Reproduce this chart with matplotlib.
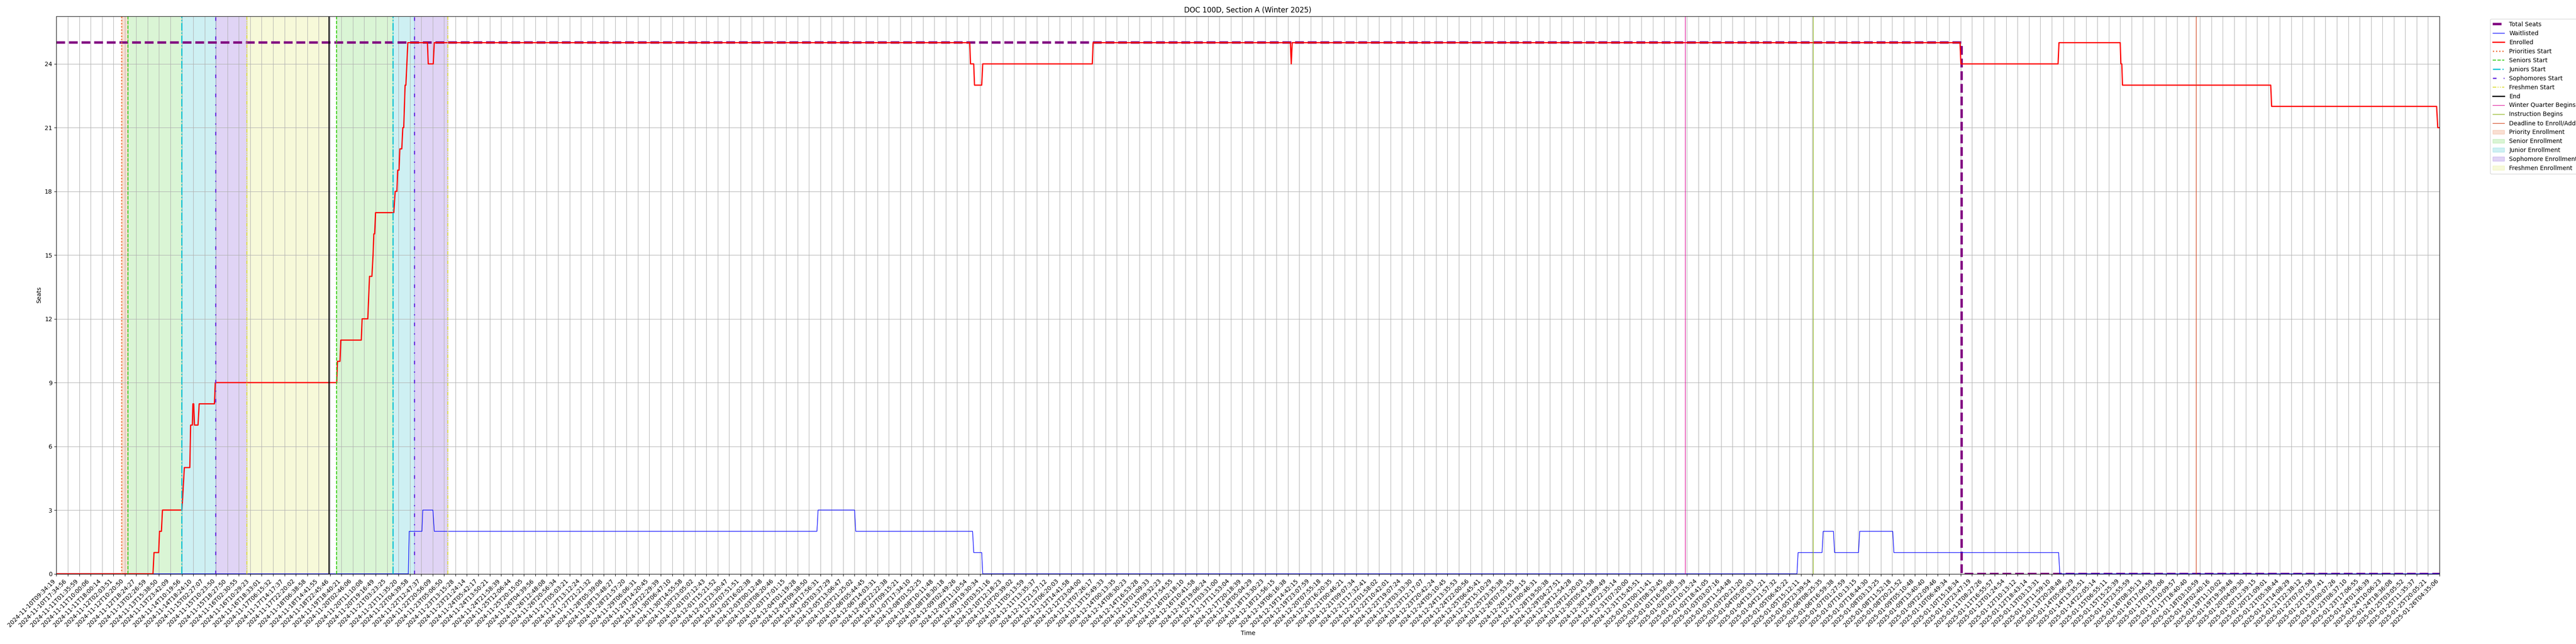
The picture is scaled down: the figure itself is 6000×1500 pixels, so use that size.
import matplotlib
matplotlib.use('Agg')
import matplotlib.pyplot as plt

# Tijdstempels op de x-as (elke tick = 1 meetpunt-index)
tijd_labels = [
    '2024-11-10T09:34:19', '2024-11-10T17:34:56', '2024-11-11T01:35:59', '2024-11-11T10:00:06',
    '2024-11-11T18:00:14', '2024-11-12T02:03:51', '2024-11-12T10:20:50', '2024-11-12T18:24:27',
    '2024-11-13T02:26:59', '2024-11-13T15:38:50', '2024-11-13T23:42:09', '2024-11-14T10:19:56',
    '2024-11-14T18:24:10', '2024-11-15T02:27:07', '2024-11-15T10:23:50', '2024-11-15T18:27:50',
    '2024-11-16T02:30:55', '2024-11-16T10:29:23', '2024-11-16T18:33:01', '2024-11-17T06:15:32',
    '2024-11-17T14:17:37', '2024-11-17T22:20:02', '2024-11-18T06:38:58', '2024-11-18T14:41:55',
    '2024-11-18T22:45:46', '2024-11-19T18:40:21', '2024-11-20T02:46:06', '2024-11-20T11:10:08',
    '2024-11-20T19:16:49', '2024-11-21T03:23:25', '2024-11-21T11:35:20', '2024-11-22T04:39:58',
    '2024-11-22T12:47:37', '2024-11-22T20:56:09', '2024-11-23T05:06:50', '2024-11-23T13:15:28',
    '2024-11-23T21:24:14', '2024-11-24T05:42:17', '2024-11-24T13:50:21', '2024-11-24T21:58:39',
    '2024-11-25T12:06:44', '2024-11-25T20:15:05', '2024-11-26T04:39:56', '2024-11-26T12:48:08',
    '2024-11-26T20:56:34', '2024-11-27T05:03:21', '2024-11-27T13:12:24', '2024-11-27T21:21:32',
    '2024-11-28T05:39:08', '2024-11-28T13:48:27', '2024-11-28T21:57:20', '2024-11-29T06:06:31',
    '2024-11-29T14:20:45', '2024-11-29T22:29:39', '2024-11-30T06:47:10', '2024-11-30T14:55:58',
    '2024-11-30T23:05:02', '2024-12-01T07:12:43', '2024-12-01T15:21:52', '2024-12-01T23:30:47',
    '2024-12-02T07:51:51', '2024-12-02T16:02:38', '2024-12-03T00:12:48', '2024-12-03T08:20:46',
    '2024-12-03T17:01:15', '2024-12-04T01:19:28', '2024-12-04T09:38:50', '2024-12-04T17:56:31',
    '2024-12-05T03:37:29', '2024-12-05T13:06:47', '2024-12-05T21:25:02', '2024-12-06T05:44:45',
    '2024-12-06T14:03:31', '2024-12-06T22:22:38', '2024-12-07T09:15:21', '2024-12-07T17:34:10',
    '2024-12-08T01:52:25', '2024-12-08T10:11:48', '2024-12-08T18:30:18', '2024-12-09T02:49:26',
    '2024-12-09T11:10:54', '2024-12-09T19:30:34', '2024-12-10T03:51:16', '2024-12-10T12:18:23',
    '2024-12-10T20:39:02', '2024-12-11T05:13:59', '2024-12-11T13:35:37', '2024-12-11T21:57:12',
    '2024-12-12T06:20:03', '2024-12-12T14:41:58', '2024-12-12T23:04:00', '2024-12-13T07:26:17',
    '2024-12-13T15:49:33', '2024-12-14T00:13:35', '2024-12-14T08:30:23', '2024-12-14T16:53:28',
    '2024-12-15T01:09:33', '2024-12-15T09:32:23', '2024-12-15T17:54:55', '2024-12-16T02:18:10',
    '2024-12-16T10:41:58', '2024-12-16T19:06:24', '2024-12-17T03:31:00', '2024-12-17T11:53:04',
    '2024-12-17T20:18:39', '2024-12-18T05:04:29', '2024-12-18T13:30:23', '2024-12-18T21:56:15',
    '2024-12-19T06:16:38', '2024-12-19T14:42:15', '2024-12-19T23:07:59', '2024-12-20T07:55:18',
    '2024-12-20T16:20:35', '2024-12-21T00:46:21', '2024-12-21T09:07:34', '2024-12-21T17:32:41',
    '2024-12-22T01:58:02', '2024-12-22T10:42:01', '2024-12-22T19:07:24', '2024-12-23T03:33:30',
    '2024-12-23T12:17:07', '2024-12-23T20:42:24', '2024-12-24T05:10:45', '2024-12-24T13:35:53',
    '2024-12-24T22:00:56', '2024-12-25T06:45:41', '2024-12-25T15:10:29', '2024-12-25T23:35:38',
    '2024-12-26T07:53:55', '2024-12-26T16:19:15', '2024-12-27T00:46:31', '2024-12-28T19:50:38',
    '2024-12-29T04:27:51', '2024-12-29T12:54:28', '2024-12-29T21:20:03', '2024-12-30T05:43:58',
    '2024-12-30T14:09:49', '2024-12-30T22:35:14', '2024-12-31T07:20:00', '2024-12-31T15:45:51',
    '2025-01-01T00:11:41', '2025-01-01T08:32:45', '2025-01-01T16:58:06', '2025-01-02T01:23:39',
    '2025-01-02T10:15:24', '2025-01-02T18:41:05', '2025-01-03T03:07:16', '2025-01-03T11:54:48',
    '2025-01-03T20:21:20', '2025-01-04T05:05:03', '2025-01-04T13:31:21', '2025-01-04T21:57:32',
    '2025-01-05T06:45:22', '2025-01-05T15:12:11', '2025-01-05T23:39:54', '2025-01-06T08:25:35',
    '2025-01-06T16:59:38', '2025-01-07T01:27:59', '2025-01-07T10:13:15', '2025-01-07T18:44:30',
    '2025-01-08T03:13:25', '2025-01-08T11:52:18', '2025-01-08T20:21:52', '2025-01-09T05:10:48',
    '2025-01-09T13:40:40', '2025-01-09T22:09:46', '2025-01-10T06:49:34', '2025-01-10T15:18:34',
    '2025-01-10T23:47:19', '2025-01-11T08:27:26', '2025-01-11T16:55:57', '2025-01-12T01:24:54',
    '2025-01-12T10:13:12', '2025-01-12T18:43:14', '2025-01-13T03:13:31', '2025-01-13T11:59:10',
    '2025-01-13T20:28:48', '2025-01-14T05:06:29', '2025-01-14T13:35:51', '2025-01-14T22:05:14',
    '2025-01-15T06:55:11', '2025-01-15T15:25:39', '2025-01-15T23:55:59', '2025-01-16T08:35:13',
    '2025-01-16T17:04:59', '2025-01-17T01:35:06', '2025-01-17T10:09:57', '2025-01-17T18:40:40',
    '2025-01-18T03:10:59', '2025-01-19T02:40:16', '2025-01-19T11:10:02', '2025-01-19T19:39:48',
    '2025-01-20T04:09:30', '2025-01-20T12:39:15', '2025-01-20T21:09:01', '2025-01-21T05:38:44',
    '2025-01-21T14:08:29', '2025-01-21T22:38:12', '2025-01-22T07:07:58', '2025-01-22T15:37:41',
    '2025-01-23T00:07:26', '2025-01-23T08:37:10', '2025-01-23T17:06:55', '2025-01-24T01:36:39',
    '2025-01-24T10:06:23', '2025-01-24T18:36:08', '2025-01-25T03:05:52', '2025-01-25T11:35:37',
    '2025-01-25T20:05:21', '2025-01-26T04:35:06',
]

# Ingeschreven studenten (x = meetpunt-index)
enrolled_x = [0, 8.47, 8.56, 8.97, 9.04, 9.21, 9.30, 11.01, 11.22, 11.70, 11.77, 11.92, 11.97,
              12.04, 12.11, 12.42, 12.52, 13.86, 13.93, 24.58, 24.65, 24.87, 24.94, 26.74, 26.81,
              27.31, 27.46, 27.67, 27.77, 27.84, 27.91, 27.99, 29.59, 29.71, 29.86, 29.93, 30.05,
              30.12, 30.29, 30.38, 30.46, 30.58, 30.65, 30.82, 32.54, 32.61, 33.05, 33.14, 80.1,
              80.17, 80.45, 80.52, 81.15, 81.24, 90.85, 90.92, 108.22, 108.3, 108.38, 166.95,
              167.03, 175.55, 175.63, 181.0, 181.06, 181.14, 181.2, 194.2, 194.28, 208.75, 208.85, 209]
enrolled_y = [0, 0, 1, 1, 2, 2, 3, 3, 5, 5, 7, 7, 8,
              8, 7, 7, 8, 8, 9, 9, 10, 10, 11, 11, 12,
              12, 14, 14, 15, 16, 16, 17, 17, 18, 18, 19, 19,
              20, 20, 21, 21, 23, 23, 25, 25, 24, 24, 25, 25,
              24, 24, 23, 23, 24, 24, 25, 25, 24, 25, 25,
              24, 24, 25, 25, 24, 24, 23, 23, 22, 22, 21, 21]

# Wachtlijst
waitlist_x = [0, 30.86, 30.94, 32.06, 32.13, 33.02, 33.14, 66.7, 66.8, 70.0, 70.1, 80.35, 80.45,
              81.15, 81.24, 152.65, 152.75, 154.85, 154.95, 155.85, 155.95, 158.05, 158.15,
              161.05, 161.15, 175.6, 175.7, 209]
waitlist_y = [0, 0, 2, 2, 3, 3, 2, 2, 3, 3, 2, 2, 1,
              1, 0, 0, 1, 1, 2, 2, 1, 1, 2,
              2, 1, 1, 0, 0]

# Totaal aantal plaatsen
seats_x = [0, 167.1, 167.1, 209]
seats_y = [25, 25, 0, 0]

# Inschrijfrondes (meetpunt-index)
priorities_start = [5.72]
seniors_start = [6.26, 24.58]
juniors_start = [10.99, 29.50]
sophomores_start = [13.95, 31.40]
freshmen_start = [16.72, 34.32]
end_time = [23.88]
winter_begins = 142.85
instruction_begins = 154.05
deadline_add = 187.65

priority_periods = [(5.72, 6.26)]
senior_periods = [(6.26, 10.99), (24.58, 29.50)]
junior_periods = [(10.99, 13.95), (29.50, 31.40)]
sophomore_periods = [(13.95, 16.72), (31.40, 34.32)]
freshmen_periods = [(16.72, 23.88)]

fig, ax = plt.subplots(figsize=(60, 15), dpi=100)
fig.subplots_adjust(left=0.0219, right=0.947, top=0.975, bottom=0.109)

ax.plot(seats_x, seats_y, color='purple', linestyle='--', linewidth=4, label='Total Seats')
ax.plot(waitlist_x, waitlist_y, color='blue', linewidth=1, label='Waitlisted')
ax.plot(enrolled_x, enrolled_y, color='red', linewidth=2, label='Enrolled')

# Verticale lijnen voor de starttijden
def vlijnen(posities, label, **kw):
    for i, p in enumerate(posities):
        ax.axvline(p, label=label if i == 0 else None, **kw)

vlijnen(priorities_start, 'Priorities Start', color='#f06a30', linestyle=':', linewidth=2)
vlijnen(seniors_start, 'Seniors Start', color='#33cc11', linestyle='--', linewidth=1.5)
vlijnen(juniors_start, 'Juniors Start', color='#11c4d4', linestyle='-.', linewidth=2)
vlijnen(sophomores_start, 'Sophomores Start', color='#6a2ee0', linestyle=(0, (3, 6, 1, 6)), linewidth=2)
vlijnen(freshmen_start, 'Freshmen Start', color='#dede3a', linestyle=(0, (4, 1.5, 1, 1.5, 1, 1.5)), linewidth=1.5)
vlijnen(end_time, 'End', color='black', linestyle='-', linewidth=2)
ax.axvline(winter_begins, color='#e0189a', linewidth=1, label='Winter Quarter Begins')
ax.axvline(instruction_begins, color='#8db31a', linewidth=1, label='Instruction Begins')
ax.axvline(deadline_add, color='#d2441c', linewidth=1, label='Deadline to Enroll/Add')

# Gekleurde periodes
def perioden(lijst, label, kleur):
    for i, (a, b) in enumerate(lijst):
        ax.axvspan(a, b, color=kleur, alpha=0.2, label=label if i == 0 else None)

perioden(priority_periods, 'Priority Enrollment', '#e15f1e')
perioden(senior_periods, 'Senior Enrollment', '#46cd2d')
perioden(junior_periods, 'Junior Enrollment', '#0ab4c3')
perioden(sophomore_periods, 'Sophomore Enrollment', '#6428cd')
perioden(freshmen_periods, 'Freshmen Enrollment', '#d7e141')

ax.set_xticks(range(len(tijd_labels)))
ax.set_xticklabels(tijd_labels, rotation=45, ha='right')
ax.set_xlim(0, 209)
ax.set_yticks(range(0, 25, 3))
ax.set_ylim(0, 26.25)
ax.grid(True)

ax.set_title('DOC 100D, Section A (Winter 2025)')
ax.set_xlabel('Time')
ax.set_ylabel('Seats')
ax.legend(bbox_to_anchor=(1.02, 1), loc='upper left')

plt.savefig('out.png')
